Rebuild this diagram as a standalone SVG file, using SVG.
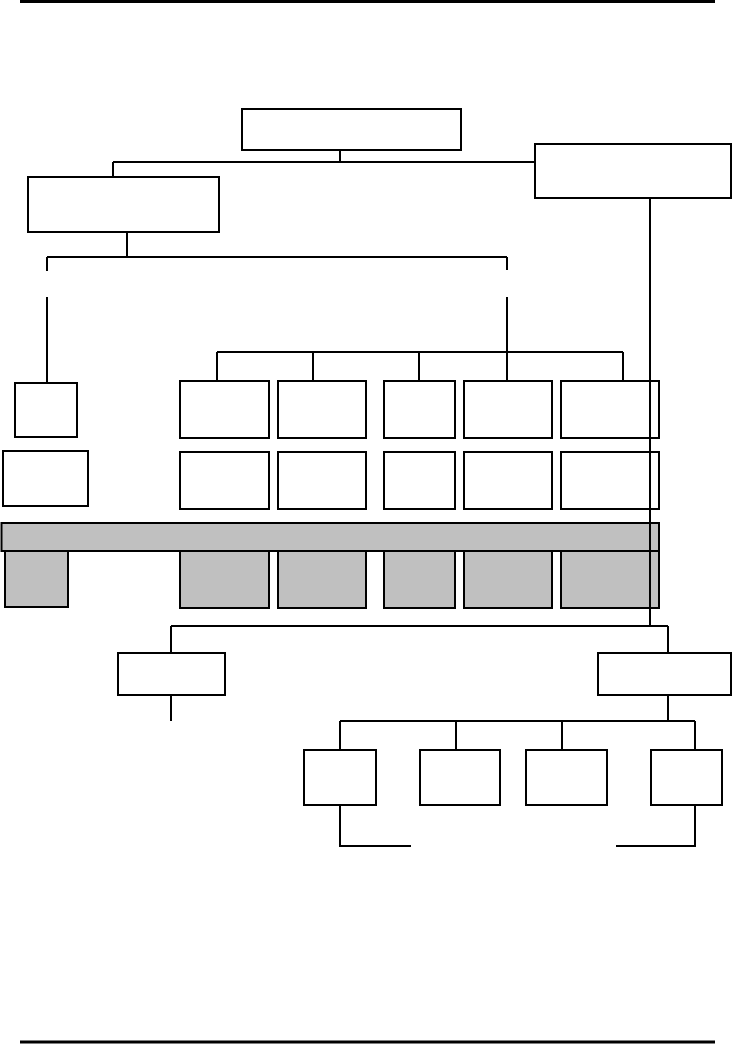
<svg xmlns="http://www.w3.org/2000/svg" width="732" height="1044" viewBox="0 0 732 1044">
<style>
.b{fill:#fff;stroke:#000;stroke-width:2}
.g{fill:#c0c0c0;stroke:#000;stroke-width:2}
.c{fill:none;stroke:#000;stroke-width:2}
</style>
<rect width="732" height="1044" fill="#fff"/>
<g id="rules">
<line x1="20" y1="1.5" x2="715" y2="1.5" stroke="#000" stroke-width="3"/>
<line x1="20" y1="1042" x2="715" y2="1042" stroke="#000" stroke-width="3"/>
</g>
<g id="connectors">
<path class="c" d="M340 150V162M113 162H535M113 162V177"/>
<path class="c" d="M127 233V257M47 257H507M47 257V271M47 297V383M507 257V270M507 297V381"/>
<path class="c" d="M217 352H623M217 352V381M313 352V381M419 352V381M623 352V381"/>
<path class="c" d="M650 199V626M171 626H668M171 626V653M668 626V653M171 695V721"/>
<path class="c" d="M668 695V721M340 721H695M340 721V750M456 721V750M562 721V750M695 721V750"/>
<path class="c" d="M340 805V846H411M695 805V846H616"/>
</g>
<g id="n-top"><rect class="b" x="242" y="109" width="219" height="41"/></g>
<g id="n-right"><rect class="b" x="535" y="144" width="196" height="54"/></g>
<g id="n-left"><rect class="b" x="28" y="177" width="191" height="55"/></g>
<g id="n-a1"><rect class="b" x="15" y="383" width="62" height="54"/></g>
<g id="n-a2"><rect class="b" x="3" y="451" width="85" height="55"/></g>
<g id="n-c1r1"><rect class="b" x="180" y="381" width="89" height="57"/></g>
<g id="n-c2r1"><rect class="b" x="278" y="381" width="88" height="57"/></g>
<g id="n-c3r1"><rect class="b" x="384" y="381" width="71" height="57"/></g>
<g id="n-c4r1"><rect class="b" x="464" y="381" width="88" height="57"/></g>
<g id="n-c5r1"><rect class="b" x="561" y="381" width="98" height="57"/></g>
<g id="n-c1r2"><rect class="b" x="180" y="452" width="89" height="57"/></g>
<g id="n-c2r2"><rect class="b" x="278" y="452" width="88" height="57"/></g>
<g id="n-c3r2"><rect class="b" x="384" y="452" width="71" height="57"/></g>
<g id="n-c4r2"><rect class="b" x="464" y="452" width="88" height="57"/></g>
<g id="n-c5r2"><rect class="b" x="561" y="452" width="98" height="57"/></g>
<g id="n-bar"><rect class="g" x="1.5" y="523" width="657.5" height="28"/></g>
<g id="n-g0"><rect class="g" x="5" y="551" width="63" height="56"/></g>
<g id="n-g1"><rect class="g" x="180" y="551" width="89" height="57"/></g>
<g id="n-g2"><rect class="g" x="278" y="551" width="88" height="57"/></g>
<g id="n-g3"><rect class="g" x="384" y="551" width="71" height="57"/></g>
<g id="n-g4"><rect class="g" x="464" y="551" width="88" height="57"/></g>
<g id="n-g5"><rect class="g" x="561" y="551" width="98" height="57"/></g>
<g id="vline-over"><line x1="650" y1="381" x2="650" y2="608" stroke="#000" stroke-width="2"/></g>
<g id="n-l1"><rect class="b" x="118" y="653" width="107" height="42"/></g>
<g id="n-r1"><rect class="b" x="598" y="653" width="133" height="42"/></g>
<g id="n-s1"><rect class="b" x="304" y="750" width="72" height="55"/></g>
<g id="n-s2"><rect class="b" x="420" y="750" width="80" height="55"/></g>
<g id="n-s3"><rect class="b" x="526" y="750" width="81" height="55"/></g>
<g id="n-s4"><rect class="b" x="651" y="750" width="71" height="55"/></g>
</svg>
